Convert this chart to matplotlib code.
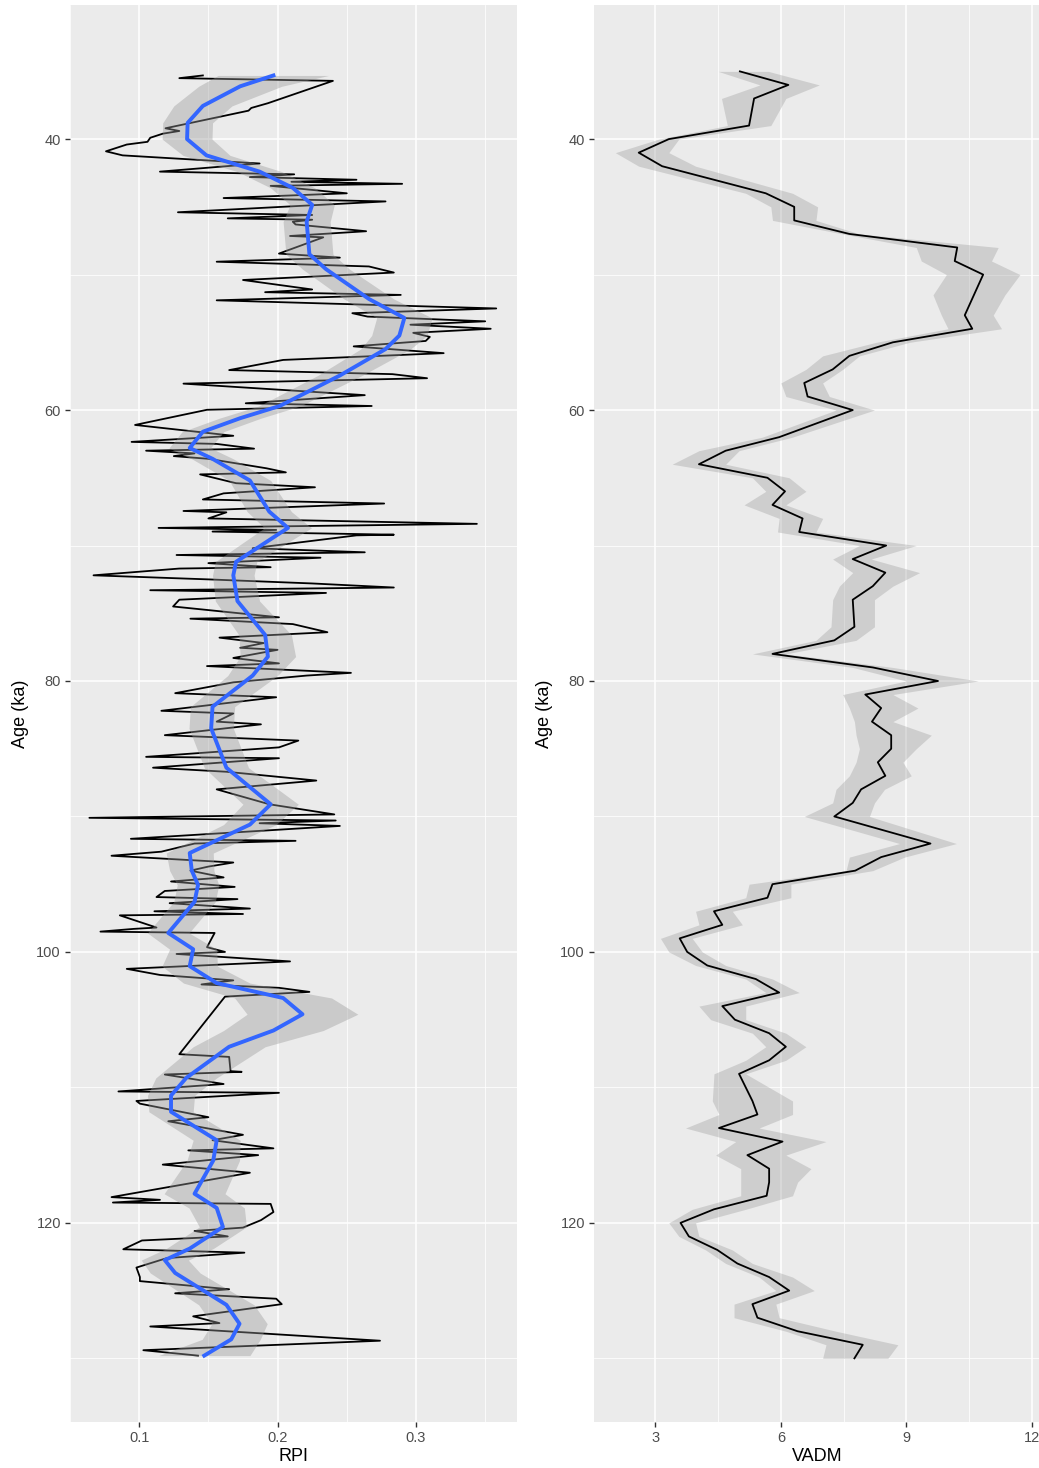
import numpy as np
import matplotlib
matplotlib.use('Agg')
from matplotlib import pyplot as plt

# RPI record (age in ka, relative paleointensity)
rpi_age = [35.3, 35.5, 35.7, 37.35, 37.7, 37.9, 39.2, 39.4, 39.6, 39.9,
           40.2, 40.4, 40.9, 41.2, 41.8, 42.4, 42.6, 42.8, 43.0, 43.15,
           43.3, 43.45, 44.0, 44.35, 44.6, 45.4, 45.6, 45.85, 45.95, 46.1,
           46.3, 46.8, 47.15, 47.25, 48.45, 48.75, 49.05, 49.4, 49.85, 50.4,
           51.1, 51.3, 51.5, 51.9, 52.5, 52.85, 53.1, 53.45, 53.7, 54.0,
           54.3, 54.6, 54.9, 55.3, 55.8, 56.3, 57.05, 57.35, 57.65, 58.05,
           58.9, 59.5, 59.7, 59.98, 61.1, 61.9, 62.35, 62.5, 62.85, 63.0,
           63.2, 63.4, 63.6, 64.3, 64.6, 64.75, 65.4, 65.7, 66.15, 66.6,
           66.9, 67.45, 67.55, 68.0, 68.4, 68.7, 68.85, 68.97, 69.2, 69.25,
           70.2, 70.5, 70.7, 70.9, 71.3, 71.6, 71.7, 72.2, 72.5, 72.8,
           73.1, 73.3, 73.5, 74.0, 74.5, 75.3, 75.4, 75.8, 76.4, 76.8,
           77.2, 77.55, 77.7, 78.3, 78.7, 78.9, 79.4, 79.6, 80.1, 80.9,
           81.2, 82.2, 82.4, 83.0, 83.2, 84.0, 84.4, 84.9, 85.6, 85.7,
           86.4, 86.7, 87.35, 88.0, 89.1, 89.85, 90.1, 90.3, 90.5, 90.7,
           91.65, 91.8, 92.0, 92.6, 92.9, 93.4, 93.7, 94.0, 94.5, 94.8,
           95.2, 95.5, 95.95, 96.1, 96.4, 96.8, 97.0, 97.2, 97.3, 98.2,
           98.3, 98.5, 98.6, 99.65, 100.0, 100.15, 100.7, 101.25, 101.7, 102.1,
           102.4, 102.65, 102.95, 103.3, 107.55, 107.75, 108.8, 108.85, 109.05, 109.75,
           110.3, 110.4, 111.0, 111.2, 112.2, 112.5, 113.5, 113.9, 114.5, 114.65,
           115.0, 115.7, 116.3, 118.1, 118.3, 118.5, 118.6, 119.2, 119.8, 120.35,
           120.6, 121.0, 121.3, 121.95, 122.2, 122.6, 123.3, 124.0, 124.3, 124.9,
           125.2, 125.6, 126.0, 126.9, 127.4, 127.65, 128.7, 129.4, 129.8]
rpi = [0.146, 0.129, 0.240, 0.193, 0.181, 0.179, 0.119, 0.129, 0.117, 0.108,
       0.106, 0.091, 0.076, 0.088, 0.187, 0.115, 0.212, 0.180, 0.257, 0.210,
       0.290, 0.195, 0.250, 0.161, 0.278, 0.128, 0.225, 0.164, 0.225, 0.211,
       0.213, 0.264, 0.209, 0.233, 0.201, 0.245, 0.156, 0.266, 0.284, 0.175,
       0.225, 0.191, 0.289, 0.156, 0.358, 0.254, 0.265, 0.350, 0.296, 0.354,
       0.298, 0.310, 0.307, 0.255, 0.320, 0.204, 0.165, 0.283, 0.308, 0.132,
       0.263, 0.177, 0.268, 0.149, 0.097, 0.168, 0.0945, 0.156, 0.183, 0.105,
       0.140, 0.125, 0.150, 0.192, 0.206, 0.144, 0.170, 0.227, 0.161, 0.146,
       0.277, 0.132, 0.163, 0.150, 0.344, 0.114, 0.199, 0.153, 0.284, 0.257,
       0.182, 0.263, 0.127, 0.231, 0.150, 0.195, 0.129, 0.067, 0.150, 0.225,
       0.284, 0.108, 0.235, 0.129, 0.1245, 0.201, 0.137, 0.211, 0.236, 0.158,
       0.190, 0.173, 0.200, 0.168, 0.201, 0.149, 0.253, 0.221, 0.168, 0.126,
       0.199, 0.116, 0.168, 0.156, 0.188, 0.1185, 0.215, 0.201, 0.105, 0.201,
       0.110, 0.163, 0.228, 0.156, 0.194, 0.241, 0.064, 0.242, 0.187, 0.245,
       0.094, 0.213, 0.140, 0.116, 0.080, 0.168, 0.150, 0.137, 0.161, 0.123,
       0.169, 0.1185, 0.1125, 0.171, 0.122, 0.180, 0.111, 0.175, 0.086, 0.1125,
       0.096, 0.072, 0.1545, 0.149, 0.162, 0.127, 0.209, 0.091, 0.115, 0.168,
       0.145, 0.201, 0.223, 0.162, 0.129, 0.165, 0.166, 0.174, 0.1185, 0.161,
       0.085, 0.201, 0.098, 0.1005, 0.150, 0.121, 0.175, 0.153, 0.197, 0.1355,
       0.186, 0.117, 0.180, 0.080, 0.115, 0.081, 0.195, 0.197, 0.188, 0.175,
       0.140, 0.164, 0.102, 0.0885, 0.176, 0.120, 0.098, 0.1005, 0.1005, 0.165,
       0.126, 0.199, 0.203, 0.139, 0.158, 0.108, 0.274, 0.103, 0.1425]

# smoothed RPI (blue curve) and half width of its grey band
smooth_age = [35.3, 36.1, 37.55, 38.8, 40.0, 41.2, 42.4, 43.6, 44.85, 46.1,
              48.5, 49.6, 51.8, 53.2, 54.5, 55.5, 57.45, 59.7, 60.6, 61.6,
              62.8, 63.6, 65.2, 67.5, 68.7, 71.2, 72.2, 74.1, 76.6, 78.2,
              79.6, 81.9, 83.5, 86.4, 89.1, 90.6, 92.7, 94.0, 95.05, 96.3,
              98.6, 99.8, 101.05, 102.3, 103.4, 104.6, 105.8, 107.0, 109.3, 110.6,
              111.8, 113.9, 115.4, 117.85, 118.9, 120.3, 121.9, 122.75, 123.7, 126.05,
              127.45, 128.6, 129.8]
smooth_rpi = [0.197, 0.173, 0.146, 0.135, 0.1346, 0.1486, 0.187, 0.211, 0.225, 0.221,
              0.223, 0.235, 0.266, 0.2916, 0.288, 0.278, 0.245, 0.2015, 0.173, 0.146,
              0.1365, 0.153, 0.180, 0.194, 0.2075, 0.170, 0.168, 0.171, 0.191, 0.193,
              0.182, 0.153, 0.152, 0.163, 0.195, 0.180, 0.1365, 0.138, 0.1425, 0.140,
              0.121, 0.139, 0.1365, 0.156, 0.204, 0.218, 0.197, 0.165, 0.134, 0.123,
              0.123, 0.156, 0.1535, 0.140, 0.156, 0.1605, 0.1365, 0.1185, 0.126, 0.163,
              0.1725, 0.1665, 0.147]
smooth_se = [0.040, 0.030, 0.021, 0.018, 0.018, 0.017, 0.016, 0.016, 0.016, 0.017,
             0.017, 0.017, 0.018, 0.020, 0.020, 0.018, 0.016, 0.015, 0.015, 0.015,
             0.015, 0.015, 0.015, 0.016, 0.017, 0.015, 0.015, 0.016, 0.019, 0.020,
             0.018, 0.016, 0.016, 0.016, 0.020, 0.019, 0.017, 0.016, 0.015, 0.015,
             0.015, 0.017, 0.020, 0.024, 0.035, 0.040, 0.036, 0.026, 0.022, 0.017,
             0.016, 0.017, 0.019, 0.022, 0.020, 0.017, 0.017, 0.017, 0.018, 0.020,
             0.020, 0.021, 0.033]

# VADM record with its lower / upper envelope
vadm_age = [35, 36, 37, 39, 40, 41, 42, 44, 45, 46,
            47, 48, 49, 50, 51.5, 53, 54, 55, 56, 57,
            58, 59, 60, 62, 63, 64, 65, 66, 67, 68,
            69, 70, 71, 72, 73, 74, 76, 77, 78, 79,
            80, 81, 82, 83, 84, 85, 86, 87, 88, 89,
            90, 92, 93, 94, 95, 96, 97, 98, 99, 100,
            101, 102, 103, 104, 105, 106, 107, 108, 109, 111,
            112, 113, 114, 115, 116, 117, 118, 119, 120, 121,
            122, 123, 124, 125, 126, 127, 128, 129, 130]
vadm = [5.02, 6.18, 5.36, 5.24, 3.32, 2.6, 3.16, 5.64, 6.32, 6.32,
        7.64, 10.22, 10.16, 10.84, 10.62, 10.4, 10.58, 8.68, 7.64, 7.24,
        6.56, 6.64, 7.72, 5.96, 4.68, 4.04, 5.68, 6.10, 5.8, 6.52,
        6.44, 8.52, 7.72, 8.5, 8.2, 7.72, 7.76, 7.28, 5.8, 8.2,
        9.76, 8.02, 8.4, 8.18, 8.64, 8.64, 8.32, 8.5, 7.92, 7.72,
        7.28, 9.58, 8.4, 7.78, 5.8, 5.68, 4.4, 4.6, 3.58, 3.76,
        4.24, 5.4, 5.96, 4.6, 4.9, 5.72, 6.12, 5.72, 5.0, 5.32,
        5.44, 4.52, 6.04, 5.2, 5.72, 5.72, 5.66, 4.4, 3.6, 3.8,
        4.48, 4.96, 5.72, 6.2, 5.32, 5.44, 6.4, 7.96, 7.76]
vadm_lo = [4.5, 5.5, 4.58, 4.72, 3.08, 2.04, 2.6, 5.16, 5.76, 5.8,
           7.48, 9.24, 9.36, 9.96, 9.64, 9.84, 10.0, 8.28, 7.0, 6.6,
           6.0, 6.12, 7.32, 5.56, 4.04, 3.4, 5.32, 5.64, 5.12, 5.96,
           5.92, 7.88, 7.24, 7.72, 7.4, 7.24, 7.2, 6.84, 5.32, 7.72,
           9.0, 7.48, 7.64, 7.76, 7.8, 7.88, 7.8, 7.64, 7.32, 7.24,
           6.56, 8.84, 7.64, 7.56, 5.24, 5.16, 3.96, 4.04, 3.12, 3.32,
           3.96, 5.16, 5.64, 4.04, 4.32, 5.32, 5.64, 5.16, 4.4, 4.36,
           4.52, 3.72, 4.92, 4.44, 5.04, 5.04, 5.04, 3.88, 3.32, 3.56,
           4.2, 4.68, 5.48, 5.88, 4.88, 4.88, 6.12, 7.08, 7.0]
vadm_hi = [5.7, 6.92, 6.12, 5.76, 3.56, 3.32, 3.96, 6.28, 6.88, 6.84,
           7.88, 11.2, 11.04, 11.72, 11.36, 11.08, 11.28, 9.08, 7.88, 7.48,
           7.0, 7.16, 8.24, 6.28, 5.0, 4.68, 6.2, 6.6, 6.12, 7.0,
           6.84, 9.24, 8.16, 9.32, 8.68, 8.24, 8.24, 7.8, 6.12, 8.68,
           10.72, 8.68, 9.28, 8.68, 9.6, 9.24, 8.92, 9.12, 8.48, 8.24,
           8.12, 10.2, 8.96, 8.2, 6.24, 6.24, 4.84, 5.08, 3.88, 4.12,
           4.68, 5.8, 6.44, 5.16, 5.16, 6.12, 6.6, 6.12, 5.16, 6.28,
           6.28, 5.48, 7.08, 6.12, 6.72, 6.4, 6.28, 5.16, 3.96, 4.04,
           4.84, 5.32, 6.28, 6.8, 5.88, 5.96, 7.32, 8.8, 8.56]

age_ticks = [40, 60, 80, 100, 120]
age_minor = [50, 70, 90, 110, 130]
rpi_ticks = [0.1, 0.2, 0.3]
rpi_minor = [0.05, 0.15, 0.25, 0.35]
vadm_ticks = [3, 6, 9, 12]
vadm_minor = [1.5, 4.5, 7.5, 10.5]

plt.rcParams['font.family'] = ['Liberation Sans', 'DejaVu Sans']


def gg_style(ax):
    # grey panel with white grid, like ggplot2's default theme
    ax.set_facecolor('#EBEBEB')
    for s in ax.spines.values():
        s.set_visible(False)
    ax.set_axisbelow(True)
    ax.grid(which='major', color='white', linewidth=1.1)
    ax.grid(which='minor', color='white', linewidth=0.55)
    ax.tick_params(which='major', length=3.5, width=1.0, color='#333333',
                   labelcolor='#4D4D4D', labelsize=10.5, pad=3)
    ax.tick_params(which='minor', length=0)
    ax.set_yticks(age_ticks)
    ax.set_yticks(age_minor, minor=True)
    ax.set_ylim(134.7, 30.1)
    ax.set_ylabel('Age (ka)', fontsize=13, labelpad=5)


fig = plt.figure(figsize=(10.39, 14.68), dpi=100)
ax1 = fig.add_axes([70 / 1039, 46 / 1468, 447 / 1039, 1417 / 1468])
ax2 = fig.add_axes([594 / 1039, 46 / 1468, 446 / 1039, 1417 / 1468])

# left: raw RPI, band drawn over it, then the blue smooth
gg_style(ax1)
ax1.plot(rpi, rpi_age, color='black', linewidth=1.3, zorder=2)
lo = np.array(smooth_rpi) - np.array(smooth_se)
hi = np.array(smooth_rpi) + np.array(smooth_se)
ax1.fill_betweenx(smooth_age, lo, hi, color='#999999', alpha=0.4, linewidth=0, zorder=3)
ax1.plot(smooth_rpi, smooth_age, color='#3366FF', linewidth=2.8, zorder=4)
ax1.set_xticks(rpi_ticks)
ax1.set_xticks(rpi_minor, minor=True)
ax1.set_xlim(0.050, 0.373)
ax1.set_xlabel('RPI', fontsize=13, labelpad=2)

# right: VADM with its envelope
gg_style(ax2)
ax2.fill_betweenx(vadm_age, vadm_lo, vadm_hi, color='#999999', alpha=0.35, linewidth=0, zorder=2)
ax2.plot(vadm, vadm_age, color='black', linewidth=1.3, zorder=3)
ax2.set_xticks(vadm_ticks)
ax2.set_xticks(vadm_minor, minor=True)
ax2.set_xlim(1.53, 12.2)
ax2.set_xlabel('VADM', fontsize=13, labelpad=2)

fig.savefig('out.png', dpi=100)
